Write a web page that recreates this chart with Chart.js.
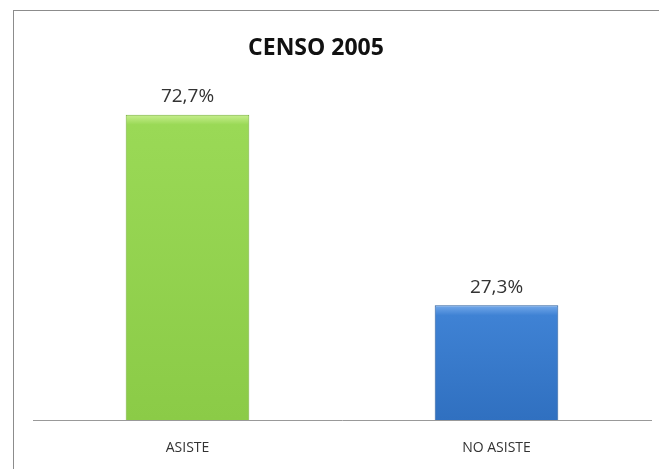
<!DOCTYPE html>
<html>
<head>
<meta charset="utf-8">
<script src="https://cdn.jsdelivr.net/npm/chart.js@4"></script>
<style>
  html, body { margin: 0; padding: 0; background: #fff; }
  #wrap { position: relative; width: 659px; height: 469px; overflow: hidden; }
  #frame { position: absolute; left: 13px; top: 10px; width: 660px; height: 480px; border: 1px solid #8c8c8c; box-sizing: border-box; }
  canvas { position: absolute; left: 0; top: 0; }
</style>
</head>
<body>
<div id="wrap">
  <div id="frame"></div>
  <canvas id="chart" width="659" height="469"></canvas>
</div>
<script>
const categories = ['ASISTE', 'NO ASISTE'];
const values = [72.7, 27.3];
const valueLabels = ['72,7%', '27,3%'];
const chartTitle = 'CENSO 2005';

// light top, main body, darker bottom, edge
const barColors = [
    ['#c8ef8f', '#9ad956', '#8bcb47', '#78b23c'],
    ['#74a9ea', '#3f82d4', '#3070c0', '#2a5e9e']
];

function barFill(c) {
    const chart = c.chart;
    const area = chart.chartArea;
    const cols = barColors[c.dataIndex];
    if (!area) return cols[1];
    const top = chart.scales.y.getPixelForValue(c.raw);
    const bottom = chart.scales.y.getPixelForValue(0);
    const g = chart.ctx.createLinearGradient(0, top, 0, bottom);
    const h = bottom - top;
    g.addColorStop(0, cols[0]);
    g.addColorStop(Math.min(0.5, 10 / h), cols[1]);
    g.addColorStop(1, cols[2]);
    return g;
}

// title + value labels drawn on top of the bars
const labelPlugin = {
    id: 'labels',
    afterDatasetsDraw(chart) {
        const ctx = chart.ctx;
        const meta = chart.getDatasetMeta(0);
        ctx.save();
        ctx.textAlign = 'center';
        ctx.textBaseline = 'middle';
        ctx.font = 'bold 23px "Open Sans", sans-serif';
        ctx.fillStyle = '#111';
        ctx.fillText(chartTitle, 316, 48);
        ctx.font = '19px "Open Sans", sans-serif';
        ctx.fillStyle = '#333';
        meta.data.forEach((bar, i) => {
            ctx.fillText(valueLabels[i], bar.x, bar.y - 18);
        });
        ctx.restore();
    }
};

new Chart(document.getElementById('chart'), {
    type: 'bar',
    data: {
        labels: categories,
        datasets: [{
            data: values,
            backgroundColor: barFill,
            borderColor: barColors.map(c => c[3]),
            borderWidth: 1,
            barPercentage: 0.4,
            categoryPercentage: 1
        }]
    },
    options: {
        responsive: false,
        animation: false,
        layout: { padding: { left: 33, right: 8, top: 63, bottom: 0 } },
        plugins: {
            legend: { display: false },
            tooltip: { enabled: false },
            title: { display: false }
        },
        scales: {
            x: {
                grid: { display: false, drawTicks: false },
                border: { color: '#999', width: 1 },
                ticks: { color: '#333', font: { family: '"Open Sans", sans-serif', size: 14 }, padding: 20 },
                afterFit(scale) { scale.height = 49; }
            },
            y: {
                display: false,
                min: 0,
                max: 85
            }
        }
    },
    plugins: [labelPlugin]
});
</script>
</body>
</html>
